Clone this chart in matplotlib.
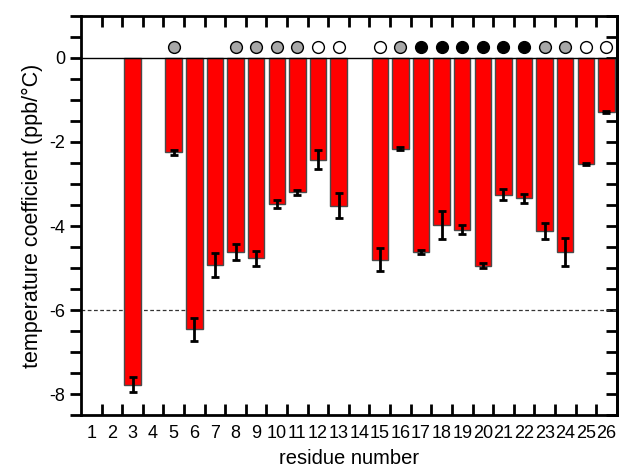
import numpy as np
import matplotlib
matplotlib.use("Agg")
import matplotlib.pyplot as plt
from matplotlib.ticker import MultipleLocator, FixedLocator

plt.rcParams['font.family'] = ['Liberation Sans', 'DejaVu Sans']

residues = list(range(1, 27))
values = [np.nan, np.nan, -7.78, np.nan, -2.25, -6.46, -4.93, -4.62, -4.77, -3.48,
          -3.20, -2.42, -3.52, np.nan, -4.80, -2.16, -4.62, -3.98, -4.09, -4.95,
          -3.26, -3.34, -4.12, -4.62, -2.52, -1.28]
errors = [np.nan, np.nan, 0.18, np.nan, 0.05, 0.27, 0.28, 0.18, 0.18, 0.10,
          0.06, 0.23, 0.30, np.nan, 0.27, 0.04, 0.04, 0.34, 0.11, 0.06,
          0.13, 0.11, 0.18, 0.34, 0.03, 0.02]
# circle markers above bars: 'g' gray, 'w' white, 'k' black, None = no marker
markers = [None, None, None, None, 'g', None, None, 'g', 'g', 'g',
           'g', 'w', 'w', None, 'w', 'g', 'k', 'k', 'k', 'k',
           'k', 'k', 'g', 'g', 'w', 'w']
marker_level = 0.27
marker_colors = {'g': '#a8a8a8', 'w': 'white', 'k': 'black'}
ref_line = -6

fig = plt.figure(figsize=(6.23, 4.69), dpi=100)
ax = fig.add_axes([0.130, 0.115, 0.860, 0.851])

x = np.array(residues, dtype=float)
v = np.array(values, dtype=float)
e = np.array(errors, dtype=float)
mask = ~np.isnan(v)

ax.bar(x[mask], v[mask], width=0.8, color='#ff0000', edgecolor='#4a4a4a',
       linewidth=1.0, zorder=2)
ax.errorbar(x[mask], v[mask], yerr=e[mask], fmt='none', ecolor='black',
            elinewidth=2, capsize=3.2, capthick=2, zorder=3)

ax.axhline(0, color='black', linewidth=1, zorder=4)
ax.axhline(ref_line, color='#333333', linewidth=0.9, linestyle=(0, (3, 2)), zorder=1)

for xi, m in zip(residues, markers):
    if m is None:
        continue
    ax.plot(xi, marker_level, 'o', markersize=8.5, markerfacecolor=marker_colors[m],
            markeredgecolor='black', markeredgewidth=1.0, zorder=5)

ax.set_xlim(0.5, 26.5)
ax.set_ylim(-8.5, 1.0)

ax.xaxis.set_major_locator(FixedLocator(residues))
ax.set_xticklabels([str(r) for r in residues])
ax.xaxis.set_minor_locator(FixedLocator(np.arange(1.5, 26.5, 1.0)))
ax.tick_params(axis='x', which='major', length=0, pad=7, labelsize=13)
ax.tick_params(axis='x', which='minor', direction='in', length=8, width=2,
               top=True, bottom=True)

ax.yaxis.set_major_locator(FixedLocator([-8, -6, -4, -2, 0]))
ax.yaxis.set_minor_locator(MultipleLocator(0.5))
ax.tick_params(axis='y', which='both', direction='out', length=8, width=2,
               labelsize=13, left=True, right=False)
ax.set_yticklabels(['-8', '-6', '-4', '-2', '0'])

# right side inward ticks
ax2 = ax.secondary_yaxis('right')
ax2.yaxis.set_major_locator(MultipleLocator(0.5))
ax2.tick_params(axis='y', direction='in', length=8, width=2, labelright=False)
ax2.spines['right'].set_linewidth(2)

for s in ax.spines.values():
    s.set_linewidth(2)

ax.set_xlabel('residue number', fontsize=14.5, labelpad=5)
ax.set_ylabel('temperature coefficient (ppb/\u00b0C)', fontsize=15.5, labelpad=4)

fig.savefig('out.png', dpi=100)
